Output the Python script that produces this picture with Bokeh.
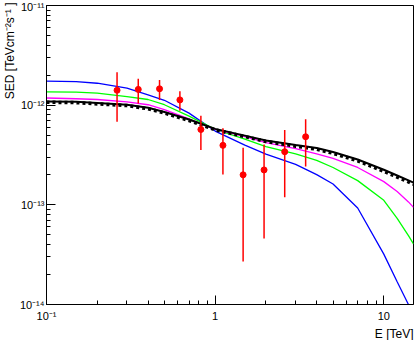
from bokeh.plotting import figure
from bokeh.models import Range1d, FixedTicker, Title, ColumnDataSource
from bokeh.embed import file_html
from bokeh.resources import INLINE

# ---- data ----
energy_grid = [0.1, 0.15, 0.2, 0.3, 0.4, 0.5, 0.7, 1.0, 1.5, 2.0, 3.0, 4.0, 5.0, 7.0, 10.0, 12.0, 14.0, 15.0]
sed_blue = [1.74e-12, 1.72e-12, 1.66e-12, 1.48e-12, 1.27e-12, 1.12e-12, 8.32e-13, 5.50e-13, 3.98e-13, 3.22e-13,
            2.55e-13, 2.01e-13, 1.62e-13, 9.3e-14, 3.2e-14, 1.69e-14, 1.0e-14, 7.9e-15]
sed_green = [1.36e-12, 1.35e-12, 1.32e-12, 1.22e-12, 1.14e-12, 1.01e-12, 7.76e-13, 5.71e-13, 4.57e-13, 3.83e-13,
             3.24e-13, 2.79e-13, 2.37e-13, 1.75e-13, 1.11e-13, 7.33e-14, 4.90e-14, 4.05e-14]
sed_magenta = [1.18e-12, 1.16e-12, 1.14e-12, 1.08e-12, 1.01e-12, 9.0e-13, 7.30e-13, 5.71e-13, 4.84e-13, 4.20e-13,
               3.67e-13, 3.25e-13, 2.93e-13, 2.37e-13, 1.71e-13, 1.36e-13, 1.07e-13, 9.44e-14]
sed_black = [1.09e-12, 1.08e-12, 1.05e-12, 1.01e-12, 9.42e-13, 8.55e-13, 7.19e-13, 5.78e-13, 4.95e-13, 4.42e-13,
             3.98e-13, 3.72e-13, 3.39e-13, 2.85e-13, 2.25e-13, 1.97e-13, 1.76e-13, 1.67e-13]
sed_black_dashed = [1.07e-12, 1.06e-12, 1.03e-12, 9.9e-13, 9.2e-13, 8.35e-13, 7.02e-13, 5.66e-13, 4.84e-13, 4.32e-13,
                    3.88e-13, 3.61e-13, 3.29e-13, 2.76e-13, 2.17e-13, 1.90e-13, 1.70e-13, 1.61e-13]

point_energy = [0.262, 0.350, 0.468, 0.618, 0.823, 1.112, 1.465, 1.95, 2.585, 3.44]
point_sed = [1.41e-12, 1.44e-12, 1.46e-12, 1.13e-12, 5.7e-13, 3.95e-13, 2.0e-13, 2.24e-13, 3.41e-13, 4.82e-13]
point_err = [7.3e-13, 4.0e-13, 3.3e-13, 2.5e-13, 2.15e-13, 1.93e-13, 1.73e-13, 1.78e-13, 2.22e-13, 2.39e-13]

x_major = [0.1, 1.0, 10.0]
x_minor = [0.2, 0.3, 0.4, 0.5, 0.6, 0.7, 0.8, 0.9, 2, 3, 4, 5, 6, 7, 8, 9]
x_labels = ["10⁻¹", "1", "10"]
y_major = [1e-14, 1e-13, 1e-12, 1e-11]
y_minor = [2e-14, 3e-14, 4e-14, 5e-14, 6e-14, 7e-14, 8e-14, 9e-14,
           2e-13, 3e-13, 4e-13, 5e-13, 6e-13, 7e-13, 8e-13, 9e-13,
           2e-12, 3e-12, 4e-12, 5e-12, 6e-12, 7e-12, 8e-12, 9e-12]
y_labels = ["10⁻¹⁴", "10⁻¹³", "10⁻¹²", "10⁻¹¹"]
x_title = "E [TeV]"
y_title = "SED [TeVcm⁻²s⁻¹ ]"

FONT = "Liberation Sans"

p = figure(width=415, height=340, x_axis_type="log", y_axis_type="log",
           x_range=Range1d(0.1, 15), y_range=Range1d(1e-14, 1e-11),
           output_backend="svg", toolbar_location=None,
           min_border_left=45, min_border_right=2, min_border_top=5, min_border_bottom=36)
p.background_fill_color = "white"
p.border_fill_color = "white"
p.outline_line_color = "black"
p.outline_line_width = 1
p.xgrid.visible = False
p.ygrid.visible = False

for ax, major, minor, labels in ((p.xaxis[0], x_major, x_minor, x_labels), (p.yaxis[0], y_major, y_minor, y_labels)):
    ax.ticker = FixedTicker(ticks=major, minor_ticks=minor)
    ax.major_label_overrides = {v: l for v, l in zip(major, labels)}
    ax.major_tick_in = 9
    ax.major_tick_out = 0
    ax.minor_tick_in = 4
    ax.minor_tick_out = 0
    ax.axis_line_color = "black"
    ax.major_tick_line_color = "black"
    ax.minor_tick_line_color = "black"
    ax.major_label_text_font = FONT
    ax.major_label_text_font_size = "11px"
    ax.major_label_text_color = "black"
p.xaxis.major_label_standoff = 5
p.yaxis.major_label_standoff = 2

# curves
p.line(energy_grid, sed_blue, line_color="#0000ff", line_width=1.3)
p.line(energy_grid, sed_green, line_color="#00ff00", line_width=1.3)
p.line(energy_grid, sed_magenta, line_color="#ff00ff", line_width=1.3)
p.line(energy_grid, sed_black, line_color="black", line_width=2)
p.line(energy_grid, sed_black_dashed, line_color="black", line_width=3.5, line_dash="3 3")

# data points with errors
lower = [v - e for v, e in zip(point_sed, point_err)]
upper = [v + e for v, e in zip(point_sed, point_err)]
src = ColumnDataSource(dict(x=point_energy, y=point_sed, lo=lower, hi=upper))
p.segment(x0="x", y0="lo", x1="x", y1="hi", source=src, line_color="#ff0000", line_width=1.5)
p.scatter("x", "y", source=src, size=6, marker="circle", fill_color="#ff0000", line_color="#ff0000")

# axis titles (right/top aligned like ROOT)
p.add_layout(Title(text=x_title, align="right", text_font=FONT, text_font_size="12px",
                   text_font_style="normal", text_color="black", standoff=0, offset=0), "below")
p.add_layout(Title(text=y_title, align="right", text_font=FONT, text_font_size="12px",
                   text_font_style="normal", text_color="black", standoff=0, offset=-3), "left")

open("out.html", "w").write(file_html(p, INLINE))
